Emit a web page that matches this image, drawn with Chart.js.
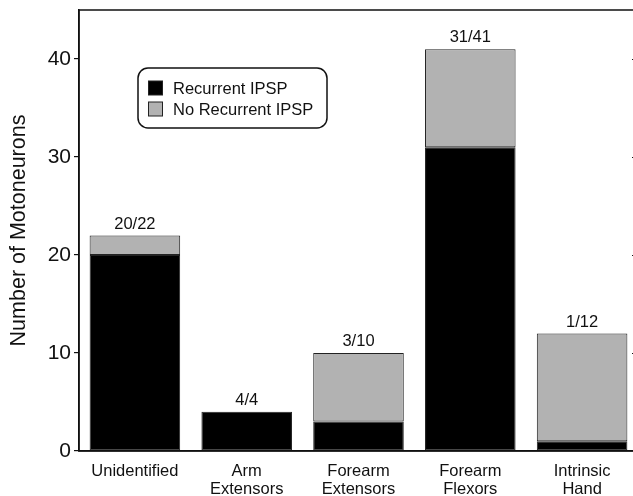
<!DOCTYPE html>
<html>
<head>
<meta charset="utf-8">
<script src="https://cdn.jsdelivr.net/npm/chart.js@4/dist/chart.umd.min.js"></script>
<style>
  html, body { margin: 0; padding: 0; overflow: hidden; background: #fff; }
  #wrap { width: 640px; height: 496px; }
</style>
</head>
<body>
<div id="wrap"><canvas id="c" width="640" height="496"></canvas></div>
<script>
// Motoneuron groups and counts
const categories = [
  'Unidentified',
  ['Arm', 'Extensors'],
  ['Forearm', 'Extensors'],
  ['Forearm', 'Flexors'],
  ['Intrinsic', 'Hand']
];
const withIPSP = [20, 4, 3, 31, 1];
const totals = [22, 4, 10, 41, 12];
const withoutIPSP = totals.map((t, i) => t - withIPSP[i]);
const yTicks = [0, 10, 20, 30, 40];
const seriesNames = ['Recurrent IPSP', 'No Recurrent IPSP'];
const seriesColors = ['#000000', '#b2b2b2'];

const FONT = '"Liberation Sans", Arial, sans-serif';
const INK = '#111';

// Frame, inward right-hand ticks, ratio labels and the boxed legend
const decorations = {
  id: 'decorations',
  afterDraw(chart) {
    const { ctx, chartArea: a, scales } = chart;
    const y = scales.y, x = scales.x;
    ctx.save();
    ctx.strokeStyle = INK;
    ctx.lineWidth = 1.5;
    ctx.strokeRect(a.left, a.top, a.right - a.left, a.bottom - a.top);

    ctx.lineWidth = 1;
    yTicks.forEach(v => {
      if (v === 0) return;
      const py = Math.round(y.getPixelForValue(v)) + 0.5;
      ctx.beginPath();
      ctx.moveTo(a.right - 6, py);
      ctx.lineTo(a.right, py);
      ctx.stroke();
    });

    ctx.fillStyle = INK;
    ctx.font = '16.5px ' + FONT;
    ctx.textAlign = 'center';
    ctx.textBaseline = 'bottom';
    totals.forEach((t, i) => {
      const px = x.getPixelForValue(i);
      const py = y.getPixelForValue(t);
      ctx.fillText(withIPSP[i] + '/' + t, px, py - 3);
    });

    // legend box
    const bx = 138, by = 68, bw = 189, bh = 60;
    ctx.lineWidth = 1.5;
    ctx.beginPath();
    ctx.roundRect(bx, by, bw, bh, 10);
    ctx.fillStyle = '#fff';
    ctx.fill();
    ctx.stroke();
    ctx.textAlign = 'left';
    ctx.textBaseline = 'middle';
    ctx.lineWidth = 1;
    ctx.font = '16.5px ' + FONT;
    seriesNames.forEach((name, i) => {
      const cy = 88 + i * 21;
      ctx.fillStyle = seriesColors[i];
      ctx.fillRect(148.5, cy - 7, 14, 14);
      ctx.strokeStyle = '#222';
      ctx.strokeRect(148.5, cy - 7, 14, 14);
      ctx.fillStyle = INK;
      ctx.fillText(name, 173, cy + 1);
    });
    ctx.restore();
  }
};

new Chart(document.getElementById('c'), {
  type: 'bar',
  data: {
    labels: categories,
    datasets: [
      { label: seriesNames[0], data: withIPSP, backgroundColor: seriesColors[0],
        borderColor: '#222', borderWidth: 1, borderSkipped: false },
      { label: seriesNames[1], data: withoutIPSP, backgroundColor: seriesColors[1],
        borderColor: '#222', borderWidth: 1, borderSkipped: false }
    ]
  },
  options: {
    responsive: false,
    animation: false,
    devicePixelRatio: 1,
    layout: { padding: { top: 10, right: 2, left: 0, bottom: 0 } },
    datasets: { bar: { categoryPercentage: 1, barPercentage: 0.81 } },
    plugins: { legend: { display: false }, tooltip: { enabled: false } },
    scales: {
      x: {
        stacked: true,
        grid: { display: false },
        border: { display: true, color: INK, width: 1.5 },
        ticks: { color: INK, font: { family: FONT, size: 16.5, lineHeight: '18.6px' }, padding: 3, maxRotation: 0 },
        afterFit(s) { s.height = 45; s.paddingLeft = 0; s.paddingRight = 0; }
      },
      y: {
        stacked: true,
        min: 0,
        max: 45,
        afterBuildTicks(s) { s.ticks = yTicks.map(v => ({ value: v })); },
        grid: { drawOnChartArea: false, drawTicks: true, tickLength: 5, color: INK, lineWidth: 1.2 },
        border: { display: true, color: INK, width: 1.5 },
        ticks: { color: INK, font: { family: FONT, size: 21 }, padding: 3 },
        title: { display: true, text: 'Number of Motoneurons', color: INK,
                 font: { family: FONT, size: 21.5 }, padding: { top: 6, bottom: 0 } },
        afterFit(s) { s.width = 79; s.paddingTop = 0; s.paddingBottom = 0; }
      }
    }
  },
  plugins: [decorations]
});
</script>
</body>
</html>
